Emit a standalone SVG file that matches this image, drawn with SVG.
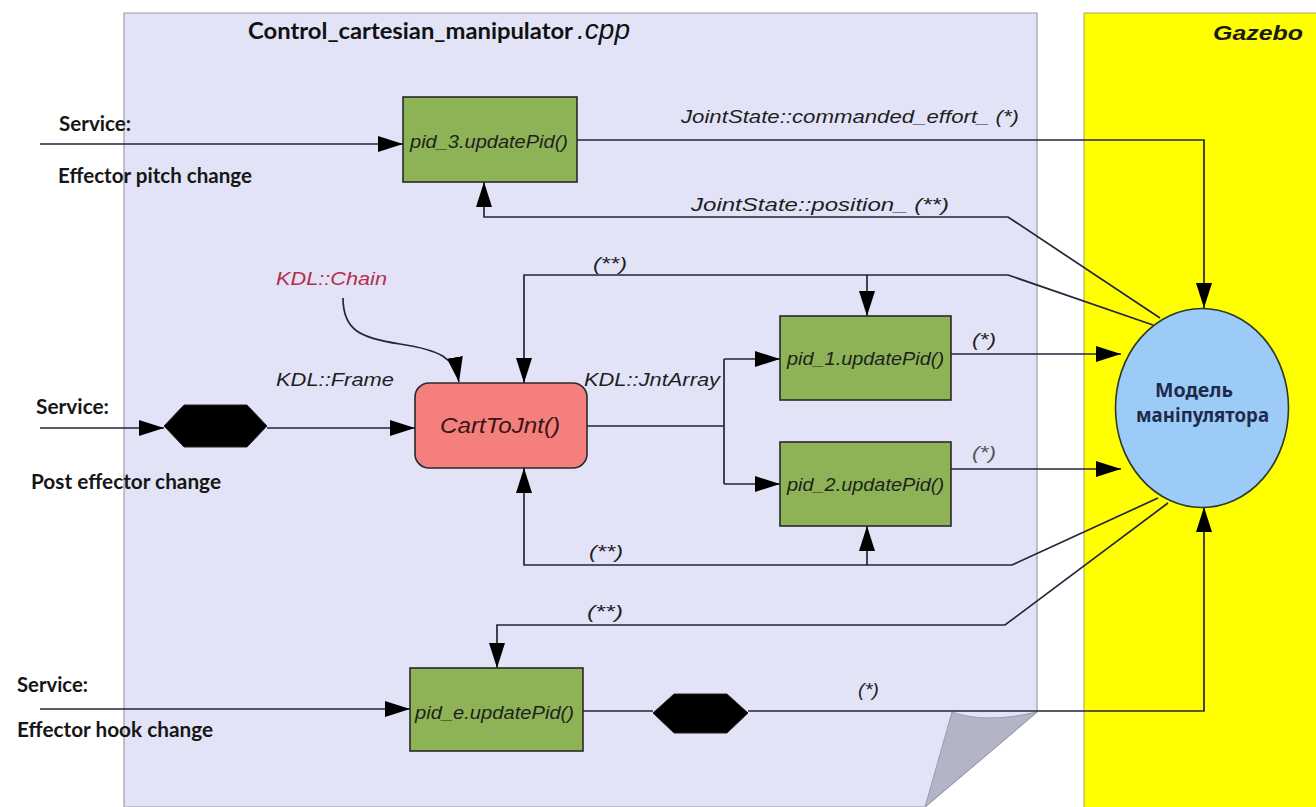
<svg xmlns="http://www.w3.org/2000/svg" width="1316" height="807" viewBox="0 0 1316 807">
<style>
.lbl{font-family:Lato,"Liberation Sans",sans-serif;font-weight:bold;font-size:20px;fill:#161616}
.it{font-family:"Liberation Sans",Arial,sans-serif;font-style:italic;font-size:17.5px;fill:#1f1f1f}
.box{fill:#8DB356;stroke:#2a2a2a;stroke-width:1.6}
.ln{fill:none;stroke:#25253a;stroke-width:1.7}
.arr{marker-end:url(#ah)}
.hex{fill:#000;stroke:#222;stroke-width:1}
</style>
<defs>
<marker id="ah" markerUnits="userSpaceOnUse" markerWidth="28" markerHeight="18" refX="25" refY="8" orient="auto">
<path d="M0,0 L25,8 L0,16 Z" fill="#000"/>
</marker>
</defs>
<rect x="0" y="0" width="1316" height="807" fill="#fff"/>
<g id="panel">
<path d="M124,13 H1037 V712 L925,807 H124 Z" fill="#E2E3F7" stroke="#9c9cae" stroke-width="1.2"/>
<path d="M952,712 Q985,724 1037,712 L925,807 Z" fill="#B3B4C6" stroke="#9a9bb0" stroke-width="1"/>
<text x="248" y="39" style="font-family:Lato,'Liberation Sans',sans-serif;font-weight:bold;font-size:22px;fill:#111" textLength="325" lengthAdjust="spacingAndGlyphs">Control_cartesian_manipulator</text>
<text x="577" y="39" style="font-family:'Liberation Sans',Arial,sans-serif;font-style:italic;font-size:27px;fill:#111" textLength="53" lengthAdjust="spacingAndGlyphs">.cpp</text>
</g>
<g id="gazebo">
<rect x="1084" y="13" width="240" height="800" fill="#FFFF00" stroke="#a8a860" stroke-width="1"/>
<text x="1213" y="40" style="font-family:'Liberation Sans',Arial,sans-serif;font-style:italic;font-weight:bold;font-size:21px;fill:#1a1a1a" textLength="90" lengthAdjust="spacingAndGlyphs">Gazebo</text>
</g>
<g id="service-labels">
<text class="lbl" x="59" y="131" textLength="72" lengthAdjust="spacingAndGlyphs">Service:</text>
<text class="lbl" x="58" y="183" textLength="194" lengthAdjust="spacingAndGlyphs">Effector pitch change</text>
<text class="lbl" x="36" y="414" textLength="73" lengthAdjust="spacingAndGlyphs">Service:</text>
<text class="lbl" x="31" y="489" textLength="190" lengthAdjust="spacingAndGlyphs">Post effector change</text>
<text class="lbl" x="17" y="692" textLength="71" lengthAdjust="spacingAndGlyphs">Service:</text>
<text class="lbl" x="17" y="737" textLength="196" lengthAdjust="spacingAndGlyphs">Effector hook change</text>
</g>
<g id="connectors">
<path class="ln arr" d="M40,144 H403"/>
<path class="ln arr" d="M577,140 H1204 V308"/>
<path class="ln arr" d="M1160,318 L1008,217 H484 V182"/>
<path class="ln arr" d="M1153,325 L1008,275 H524 V383"/>
<path class="ln arr" d="M867,275 V316"/>
<path class="ln arr" d="M40,428 H164"/>
<path class="ln arr" d="M267,428 H415"/>
<path class="ln arr" d="M343,298 C343,330 360,338 400,344 C440,350 455,358 459,382"/>
<path class="ln" d="M587,426 H724 M724,359 V484"/>
<path class="ln arr" d="M724,359 H780"/>
<path class="ln arr" d="M724,484 H780"/>
<path class="ln arr" d="M951,354 H1121"/>
<path class="ln arr" d="M951,469 H1121"/>
<path class="ln arr" d="M1158,498 L1012,565 H524 V468"/>
<path class="ln arr" d="M867,565 V526"/>
<path class="ln arr" d="M1168,503 L1005,625 H497 V668"/>
<path class="ln arr" d="M40,709 H410"/>
<path class="ln" d="M583,711 H653"/>
<path class="ln arr" d="M748,711 H1204 V507"/>
<text class="it" x="681" y="123" textLength="338" lengthAdjust="spacingAndGlyphs">JointState::commanded_effort_ (*)</text>
<text class="it" x="691" y="211" textLength="258" lengthAdjust="spacingAndGlyphs">JointState::position_ (**)</text>
<text class="it" x="593" y="270" textLength="34" lengthAdjust="spacingAndGlyphs">(**)</text>
<text class="it" x="276" y="285" textLength="111" lengthAdjust="spacingAndGlyphs" style="fill:#B82C4C">KDL::Chain</text>
<text class="it" x="276" y="386" textLength="118" lengthAdjust="spacingAndGlyphs">KDL::Frame</text>
<text class="it" x="584" y="386" textLength="136" lengthAdjust="spacingAndGlyphs">KDL::JntArray</text>
<text class="it" x="972" y="346" textLength="24" lengthAdjust="spacingAndGlyphs">(*)</text>
<text class="it" x="972" y="459" textLength="24" lengthAdjust="spacingAndGlyphs" style="fill:#555">(*)</text>
<text class="it" x="589" y="558" textLength="34" lengthAdjust="spacingAndGlyphs">(**)</text>
<text class="it" x="587" y="618" textLength="36" lengthAdjust="spacingAndGlyphs">(**)</text>
<text class="it" x="858" y="696" textLength="21" lengthAdjust="spacingAndGlyphs">(*)</text>
</g>
<g id="pid3">
<rect class="box" x="403" y="97" width="174" height="85"/>
<text class="it" x="410" y="148" textLength="158" lengthAdjust="spacingAndGlyphs">pid_3.updatePid()</text>
</g>
<g id="hex1">
<polygon class="hex" points="164,426 184,405 247,405 267,426 247,447 184,447"/>
</g>
<g id="carttojnt">
<rect x="415" y="383" width="172" height="85" rx="14" fill="#F47F7C" stroke="#2a2a2a" stroke-width="1.6"/>
<text x="440" y="433" style="font-family:'Liberation Sans',Arial,sans-serif;font-style:italic;font-size:22px;fill:#3a1515" textLength="120" lengthAdjust="spacingAndGlyphs">CartToJnt()</text>
</g>
<g id="pid1">
<rect class="box" x="780" y="316" width="171" height="84"/>
<text class="it" x="787" y="365" textLength="157" lengthAdjust="spacingAndGlyphs">pid_1.updatePid()</text>
</g>
<g id="pid2">
<rect class="box" x="780" y="442" width="171" height="84"/>
<text class="it" x="787" y="491" textLength="157" lengthAdjust="spacingAndGlyphs">pid_2.updatePid()</text>
</g>
<g id="pide">
<rect class="box" x="410" y="668" width="173" height="83"/>
<text class="it" x="415" y="719" textLength="159" lengthAdjust="spacingAndGlyphs">pid_e.updatePid()</text>
</g>
<g id="hex2">
<polygon class="hex" points="653,713 674,694 727,694 748,713 727,733 674,733"/>
</g>
<g id="model">
<ellipse cx="1202" cy="408" rx="86.5" ry="99.5" fill="#9CCBF7" stroke="#2b3a2b" stroke-width="1.6"/>
<text x="1155" y="397" style="font-family:'Noto Sans','Open Sans',sans-serif;font-weight:bold;font-size:19px;fill:#1c2b4a" textLength="78" lengthAdjust="spacingAndGlyphs">Модель</text>
<text x="1136" y="422" style="font-family:'Noto Sans','Open Sans',sans-serif;font-weight:bold;font-size:19px;fill:#1c2b4a" textLength="133" lengthAdjust="spacingAndGlyphs">маніпулятора</text>
</g>
</svg>
